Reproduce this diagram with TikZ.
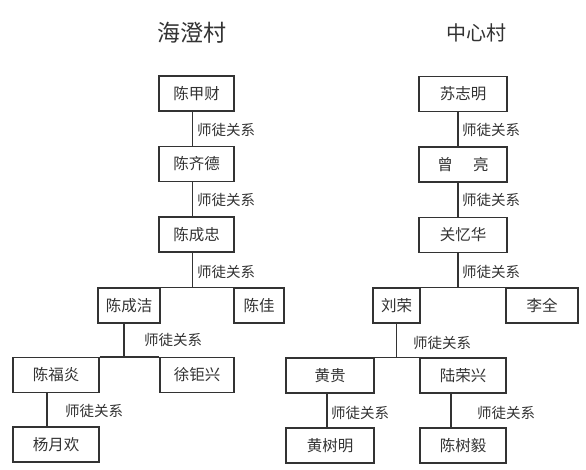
\documentclass[tikz,border=0pt]{standalone}
\usepackage{fontspec}
\setmainfont{Noto Sans CJK SC}
\usetikzlibrary{positioning}
\definecolor{ink}{HTML}{333333}

\tikzset{
  person/.style={draw=ink,line width=1.3pt,text=ink,inner sep=0pt,
    minimum height=35pt,font=\fontsize{15.5}{15.5}\selectfont},
  rel/.style={anchor=west,text=ink,inner sep=0pt,font=\fontsize{14.5}{14.5}\selectfont},
  village/.style={text=ink,inner sep=0pt,font=\fontsize{20}{20}\selectfont},
  link/.style={draw=ink,line width=1.3pt}
}

\begin{document}
\begin{tikzpicture}[x=1pt,y=-1pt]
\useasboundingbox[fill=white] (0,0) rectangle (586,469);

% village names
\node[village,font=\fontsize{23}{23}\selectfont] (hc) at (192,33) {海澄村};
\node[village] (zx) at (476,33) {中心村};

% left tree
\node[person,minimum width=75pt] (jiacai) at (196.5,93.5) {陈甲财};
\node[person,minimum width=75pt] (qide) at (196.5,164) {陈齐德};
\node[person,minimum width=75pt] (chengzhong) at (196.5,234.5) {陈成忠};
\node[person,minimum width=62pt] (chengjie) at (129,305.5) {陈成洁};
\node[person,minimum width=50pt] (chenjia) at (259,305.5) {陈佳};
\node[person,minimum width=86pt] (fuyan) at (56,375) {陈福炎};
\node[person,minimum width=74pt] (juxing) at (197,375) {徐钜兴};
\node[person,minimum width=86pt] (yuehuan) at (56,444.5) {杨月欢};

% right tree
\node[person,minimum width=88pt] (zhiming) at (463,94) {苏志明};
\node[person,minimum width=88pt] (liang) at (463,164.5) {曾\hspace{1.3em}亮};
\node[person,minimum width=88pt] (yihua) at (463,235) {关忆华};
\node[person,minimum width=47pt] (liurong) at (396.5,305.5) {刘荣};
\node[person,minimum width=72pt] (liquan) at (542,305.5) {李全};
\node[person,minimum width=88pt] (huanggui) at (330,375.5) {黄贵};
\node[person,minimum width=86pt] (rongxing) at (463,375.5) {陆荣兴};
\node[person,minimum width=88pt] (shuming) at (330,445.5) {黄树明};
\node[person,minimum width=86pt] (shuyi) at (463,445.5) {陈树毅};

% labels on the lines
\foreach \x/\y [count=\i] in {197/130,197/200,197/272,144/340,65/411,
                              462/130,462/200,462/272,413/343,331/413,477/413}
  \node[rel] (rel\i) at (\x,\y) {师徒关系};

% left connectors
\draw[link] ([xshift=-4pt]jiacai.south) -- ([xshift=-4pt]qide.north);
\draw[link] ([xshift=-4pt]qide.south) -- ([xshift=-4pt]chengzhong.north);
\draw[link] ([xshift=-4pt]chengzhong.south) -- ([xshift=-4pt]chengzhong.south |- chengjie.north);
\draw[link] (chengjie.north east) -- (chenjia.north west);
\draw[link] ([xshift=-5pt]chengjie.south) -- ([xshift=-5pt]chengjie.south |- fuyan.north);
\draw[link] (fuyan.north east) -- (juxing.north west);
\draw[link] ([xshift=-9pt]fuyan.south) -- ([xshift=-9pt]yuehuan.north);

% right connectors
\draw[link] ([xshift=-5pt]zhiming.south) -- ([xshift=-5pt]liang.north);
\draw[link] ([xshift=-5pt]liang.south) -- ([xshift=-5pt]yihua.north);
\draw[link] ([xshift=-5pt]yihua.south) -- ([xshift=-5pt]yihua.south |- liurong.north);
\draw[link] (liurong.north east) -- (liquan.north west);
\draw[link] (liurong.south) -- (liurong.south |- huanggui.north);
\draw[link] (huanggui.north east) -- (rongxing.north west);
\draw[link] ([xshift=-3pt]huanggui.south) -- ([xshift=-3pt]shuming.north);
\draw[link] ([xshift=-12pt]rongxing.south) -- ([xshift=-12pt]shuyi.north);
\end{tikzpicture}
\end{document}
